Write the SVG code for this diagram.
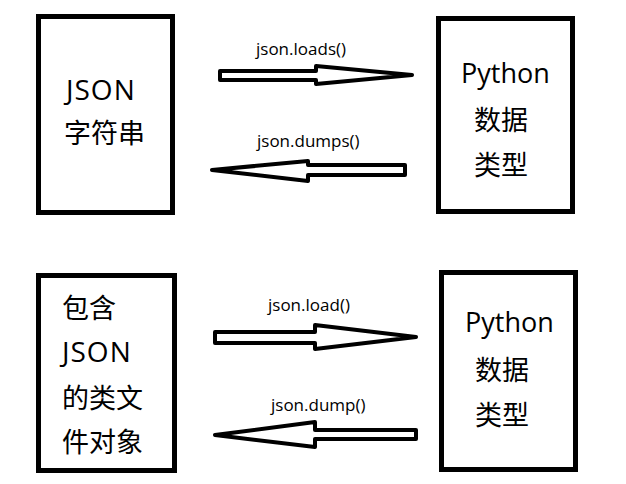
<svg xmlns="http://www.w3.org/2000/svg" width="626" height="484" viewBox="0 0 626 484">
<style>
.box{fill:#fff;stroke:#000;stroke-width:5}
.t{font-family:"Open Sans","Noto Sans CJK SC",sans-serif;font-size:27px;fill:#000}
.wide{font-size:28px;letter-spacing:1px}
.arr{fill:#fff;stroke:#000;stroke-width:4;stroke-linejoin:round}
.lbl{font-family:"Open Sans","Noto Sans CJK SC",sans-serif;font-size:17px;fill:#000}
</style>
<rect width="626" height="484" fill="#fff"/>
<g id="json-string">
<rect class="box" x="38.5" y="16.5" width="134" height="196"/>
<text class="t wide" x="66" y="100">JSON</text>
<text class="t" x="64" y="143">字符串</text>
</g>
<g id="python-type-1">
<rect class="box" x="438.5" y="18.5" width="134" height="193"/>
<text class="t" x="461" y="83">Python</text>
<text class="t" x="474" y="130">数据</text>
<text class="t" x="474" y="175">类型</text>
</g>
<g id="json-file">
<rect class="box" x="38.5" y="275.5" width="136" height="195"/>
<text class="t" x="62" y="318">包含</text>
<text class="t wide" x="62" y="362">JSON</text>
<text class="t" x="62" y="408">的类文</text>
<text class="t" x="62" y="452">件对象</text>
</g>
<g id="python-type-2">
<rect class="box" x="441.5" y="272.5" width="134" height="197"/>
<text class="t" x="465" y="332">Python</text>
<text class="t" x="475" y="380">数据</text>
<text class="t" x="475" y="425">类型</text>
</g>
<g id="connectors">
<polygon class="arr" points="220,71 316,71 316,66 412,75 316,84 316,80 220,80"/>
<text class="lbl" x="256" y="55">json.loads()</text>
<polygon class="arr" points="405,165 308,165 308,161 212,170 308,181 308,175 405,175"/>
<text class="lbl" x="257" y="147">json.dumps()</text>
<polygon class="arr" points="215,332 315,332 315,325 416,337 315,349 315,343 215,343"/>
<text class="lbl" x="268" y="311">json.load()</text>
<polygon class="arr" points="416,430 315,430 315,422 215,435 315,447 315,439 416,439"/>
<text class="lbl" x="271" y="411">json.dump()</text>
</g>
</svg>
